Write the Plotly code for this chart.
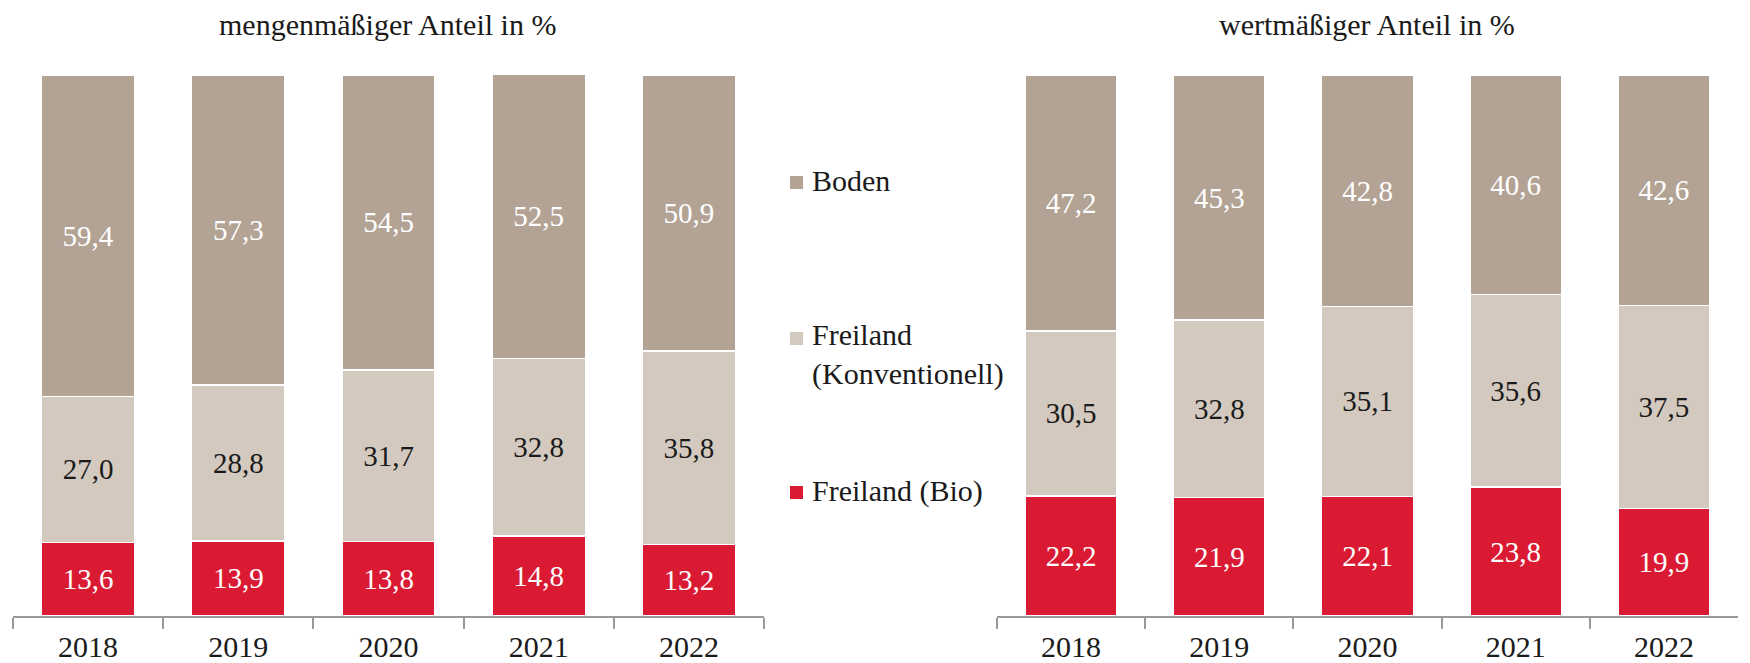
import plotly.graph_objects as go

years = ["2018", "2019", "2020", "2021", "2022"]
series_names = ["Freiland (Bio)", "Freiland (Konventionell)", "Boden"]

menge_bio = [13.6, 13.9, 13.8, 14.8, 13.2]
menge_konv = [27.0, 28.8, 31.7, 32.8, 35.8]
menge_boden = [59.4, 57.3, 54.5, 52.5, 50.9]

wert_bio = [22.2, 21.9, 22.1, 23.8, 19.9]
wert_konv = [30.5, 32.8, 35.1, 35.6, 37.5]
wert_boden = [47.2, 45.3, 42.8, 40.6, 42.6]

titles = ["mengenmäßiger Anteil in %", "wertmäßiger Anteil in %"]
legend_labels = ["Boden", "Freiland<br>(Konventionell)", "Freiland (Bio)"]

colors = {"Freiland (Bio)": "#da1a32", "Freiland (Konventionell)": "#d3c9bf", "Boden": "#b3a394"}
text_colors = {"Freiland (Bio)": "white", "Freiland (Konventionell)": "#1a1a1a", "Boden": "white"}

FONT = "Liberation Serif"
W, H = 1750, 663
OFF = 8  # default page body margin

fig = go.Figure()

panels = [
    ("x", "y", [menge_bio, menge_konv, menge_boden]),
    ("x2", "y2", [wert_bio, wert_konv, wert_boden]),
]
for xa, ya, vals in panels:
    for name, v in zip(series_names, vals):
        fig.add_trace(go.Bar(
            x=years, y=v, name=name, xaxis=xa, yaxis=ya,
            marker=dict(color=colors[name], line=dict(color="white", width=1.5)),
            texttemplate="%{y:.1f}", textposition="inside", insidetextanchor="middle",
            textfont=dict(family=FONT, size=29, color=text_colors[name]),
            textangle=0, constraintext="none",
            showlegend=False, hoverinfo="skip",
        ))

def px_x(p):
    return (p - OFF) / W

def px_y(p):
    return (H - (p - OFF)) / H

xaxis_common = dict(
    type="category", range=[-0.5, 4.5], showline=True, linecolor="#9a9a9a", linewidth=1.5,
    ticks="outside", tickson="boundaries", ticklen=11, tickcolor="#9a9a9a", tickwidth=1.5,
    tickfont=dict(family=FONT, size=30, color="#1a1a1a"), showgrid=False, automargin=False,
    ticklabelstandoff=3, fixedrange=True,
)
yaxis_common = dict(range=[0, 100], visible=False, showgrid=False, fixedrange=True)

fig.update_layout(
    width=W, height=H, margin=dict(l=0, r=0, t=0, b=0),
    plot_bgcolor="white", paper_bgcolor="white",
    barmode="stack", bargap=0.38, separators=",.",
    font=dict(family=FONT, color="#1a1a1a"),
    xaxis=dict(domain=[px_x(13), px_x(764)], anchor="y", **xaxis_common),
    yaxis=dict(domain=[px_y(616), px_y(75)], anchor="x", **yaxis_common),
    xaxis2=dict(domain=[px_x(997), px_x(1738)], anchor="y2", **xaxis_common),
    yaxis2=dict(domain=[px_y(616), px_y(75)], anchor="x2", **yaxis_common),
)

# panel titles
for xc, t in zip([387, 1367], titles):
    fig.add_annotation(x=px_x(xc), y=px_y(24), xref="paper", yref="paper", text=t,
                       showarrow=False, font=dict(family=FONT, size=30, color="#1a1a1a"),
                       xanchor="center", yanchor="middle")

# legend drawn manually
legend_colors = [colors["Boden"], colors["Freiland (Konventionell)"], colors["Freiland (Bio)"]]
legend_y = [181, 355, 491]
for lab, col, yc in zip(legend_labels, legend_colors, legend_y):
    fig.add_annotation(x=px_x(810), y=px_y(yc), xref="paper", yref="paper", text=lab,
                       showarrow=False, align="left", xanchor="left", yanchor="middle",
                       font=dict(family=FONT, size=30, color="#1a1a1a"))
first_line_y = [181, 337, 491]
for col, yc in zip(legend_colors, first_line_y):
    fig.add_shape(type="rect", xref="paper", yref="paper",
                  x0=px_x(790), x1=px_x(803), y0=px_y(yc + 8), y1=px_y(yc - 5),
                  fillcolor=col, line=dict(width=0))

fig.write_html("out.html")
